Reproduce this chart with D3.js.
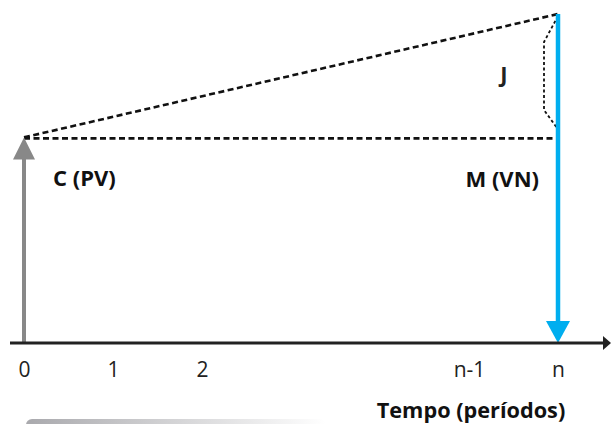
<!DOCTYPE html>
<html><head><meta charset="utf-8">
<script src="https://cdn.jsdelivr.net/npm/d3@7"></script>
<style>body{margin:0;background:#fff}svg{display:block}</style>
</head><body>
<svg id="c" width="611" height="424"></svg>
<script>
// Data
const tickPeriods = [0, 1, 2, 5, 6];
const tickLabels = ["0", "1", "2", "n-1", "n"];
const presentValue = 100;   // C (PV) at period 0
const futureValue = 160;    // M (VN) at period n
const flowLabels = ["C (PV)", "M (VN)"];
const axisTitle = "Tempo (períodos)";
const interestLabel = "J";

const svg = d3.select("#c");
const x = d3.scaleLinear().domain([0, 6]).range([24, 558]);
const y = d3.scaleLinear().domain([0, futureValue]).range([343, 14]);
const font = "'Open Sans', Lato, sans-serif";

// gradient bar at bottom
const defs = svg.append("defs");
const g = defs.append("linearGradient").attr("id","gb");
g.append("stop").attr("offset","0%").attr("stop-color","#a9a9ad");
g.append("stop").attr("offset","100%").attr("stop-color","#ffffff");
svg.append("rect").attr("x",26).attr("y",419).attr("width",300).attr("height",12).attr("rx",6).attr("fill","url(#gb)");

// dashed lines
svg.append("line").attr("x1",x(0)).attr("y1",y(presentValue)).attr("x2",x(6)).attr("y2",y(futureValue))
  .attr("stroke","#111").attr("stroke-width",2.6).attr("stroke-dasharray","6,3.5");
svg.append("line").attr("x1",x(0)).attr("y1",y(presentValue)+1).attr("x2",x(6)).attr("y2",y(presentValue)+1)
  .attr("stroke","#111").attr("stroke-width",2.6).attr("stroke-dasharray","6,3.5");

// bracket J
const bx = x(6);
const bracket = d3.line()([[bx, y(futureValue)+2],[bx-14, y(futureValue)+28],[bx-14, y(futureValue)+96],[bx-1, y(futureValue)+114]]);
svg.append("path").attr("d",bracket).attr("fill","none").attr("stroke","#111").attr("stroke-width",1.8).attr("stroke-dasharray","3,2.5");
svg.append("text").attr("x",504).attr("y",82).attr("text-anchor","middle")
  .attr("font-family",font).attr("font-weight","bold").attr("font-size",22).attr("fill","#222").text(interestLabel);

// PV arrow (up, grey)
const ax0 = x(0);
svg.append("line").attr("x1",ax0).attr("y1",y(0)).attr("x2",ax0).attr("y2",y(presentValue)+18)
  .attr("stroke","#888").attr("stroke-width",4);
svg.append("path").attr("d",d3.line()([[ax0-11,y(presentValue)+22],[ax0+11,y(presentValue)+22],[ax0,y(presentValue)]]))
  .attr("fill","#888");

// FV arrow (down, blue)
const ax1 = x(6);
svg.append("line").attr("x1",ax1).attr("y1",y(futureValue)).attr("x2",ax1).attr("y2",y(0)-18)
  .attr("stroke","#00aeef").attr("stroke-width",4.5);
svg.append("path").attr("d",d3.line()([[ax1-12,y(0)-22],[ax1+12,y(0)-22],[ax1,y(0)]]))
  .attr("fill","#00aeef");

// time axis
svg.append("line").attr("x1",10).attr("y1",y(0)).attr("x2",604).attr("y2",y(0))
  .attr("stroke","#222").attr("stroke-width",2.8);
svg.append("path").attr("d",d3.line()([[603,y(0)-7],[611,y(0)],[603,y(0)+7]])).attr("fill","#222");

const axis = d3.axisBottom(x).tickValues(tickPeriods).tickFormat((d,i)=>tickLabels[i]).tickSize(0).tickPadding(19);
const ag = svg.append("g").attr("transform",`translate(0,${y(0)})`).call(axis);
ag.select(".domain").remove();
ag.selectAll("text").attr("font-family",font).attr("font-size",21).attr("fill","#222");

svg.append("text").attr("x",471).attr("y",418).attr("text-anchor","middle")
  .attr("font-family",font).attr("font-weight","bold").attr("font-size",21.7).attr("fill","#111").text(axisTitle);

// flow labels
svg.append("text").attr("x",53).attr("y",186).attr("font-family",font).attr("font-weight","bold").attr("font-size",22).attr("fill","#111").text(flowLabels[0]);
svg.append("text").attr("x",539).attr("y",187).attr("text-anchor","end").attr("font-family",font).attr("font-weight","bold").attr("font-size",22).attr("fill","#111").text(flowLabels[1]);
</script>
</body></html>
